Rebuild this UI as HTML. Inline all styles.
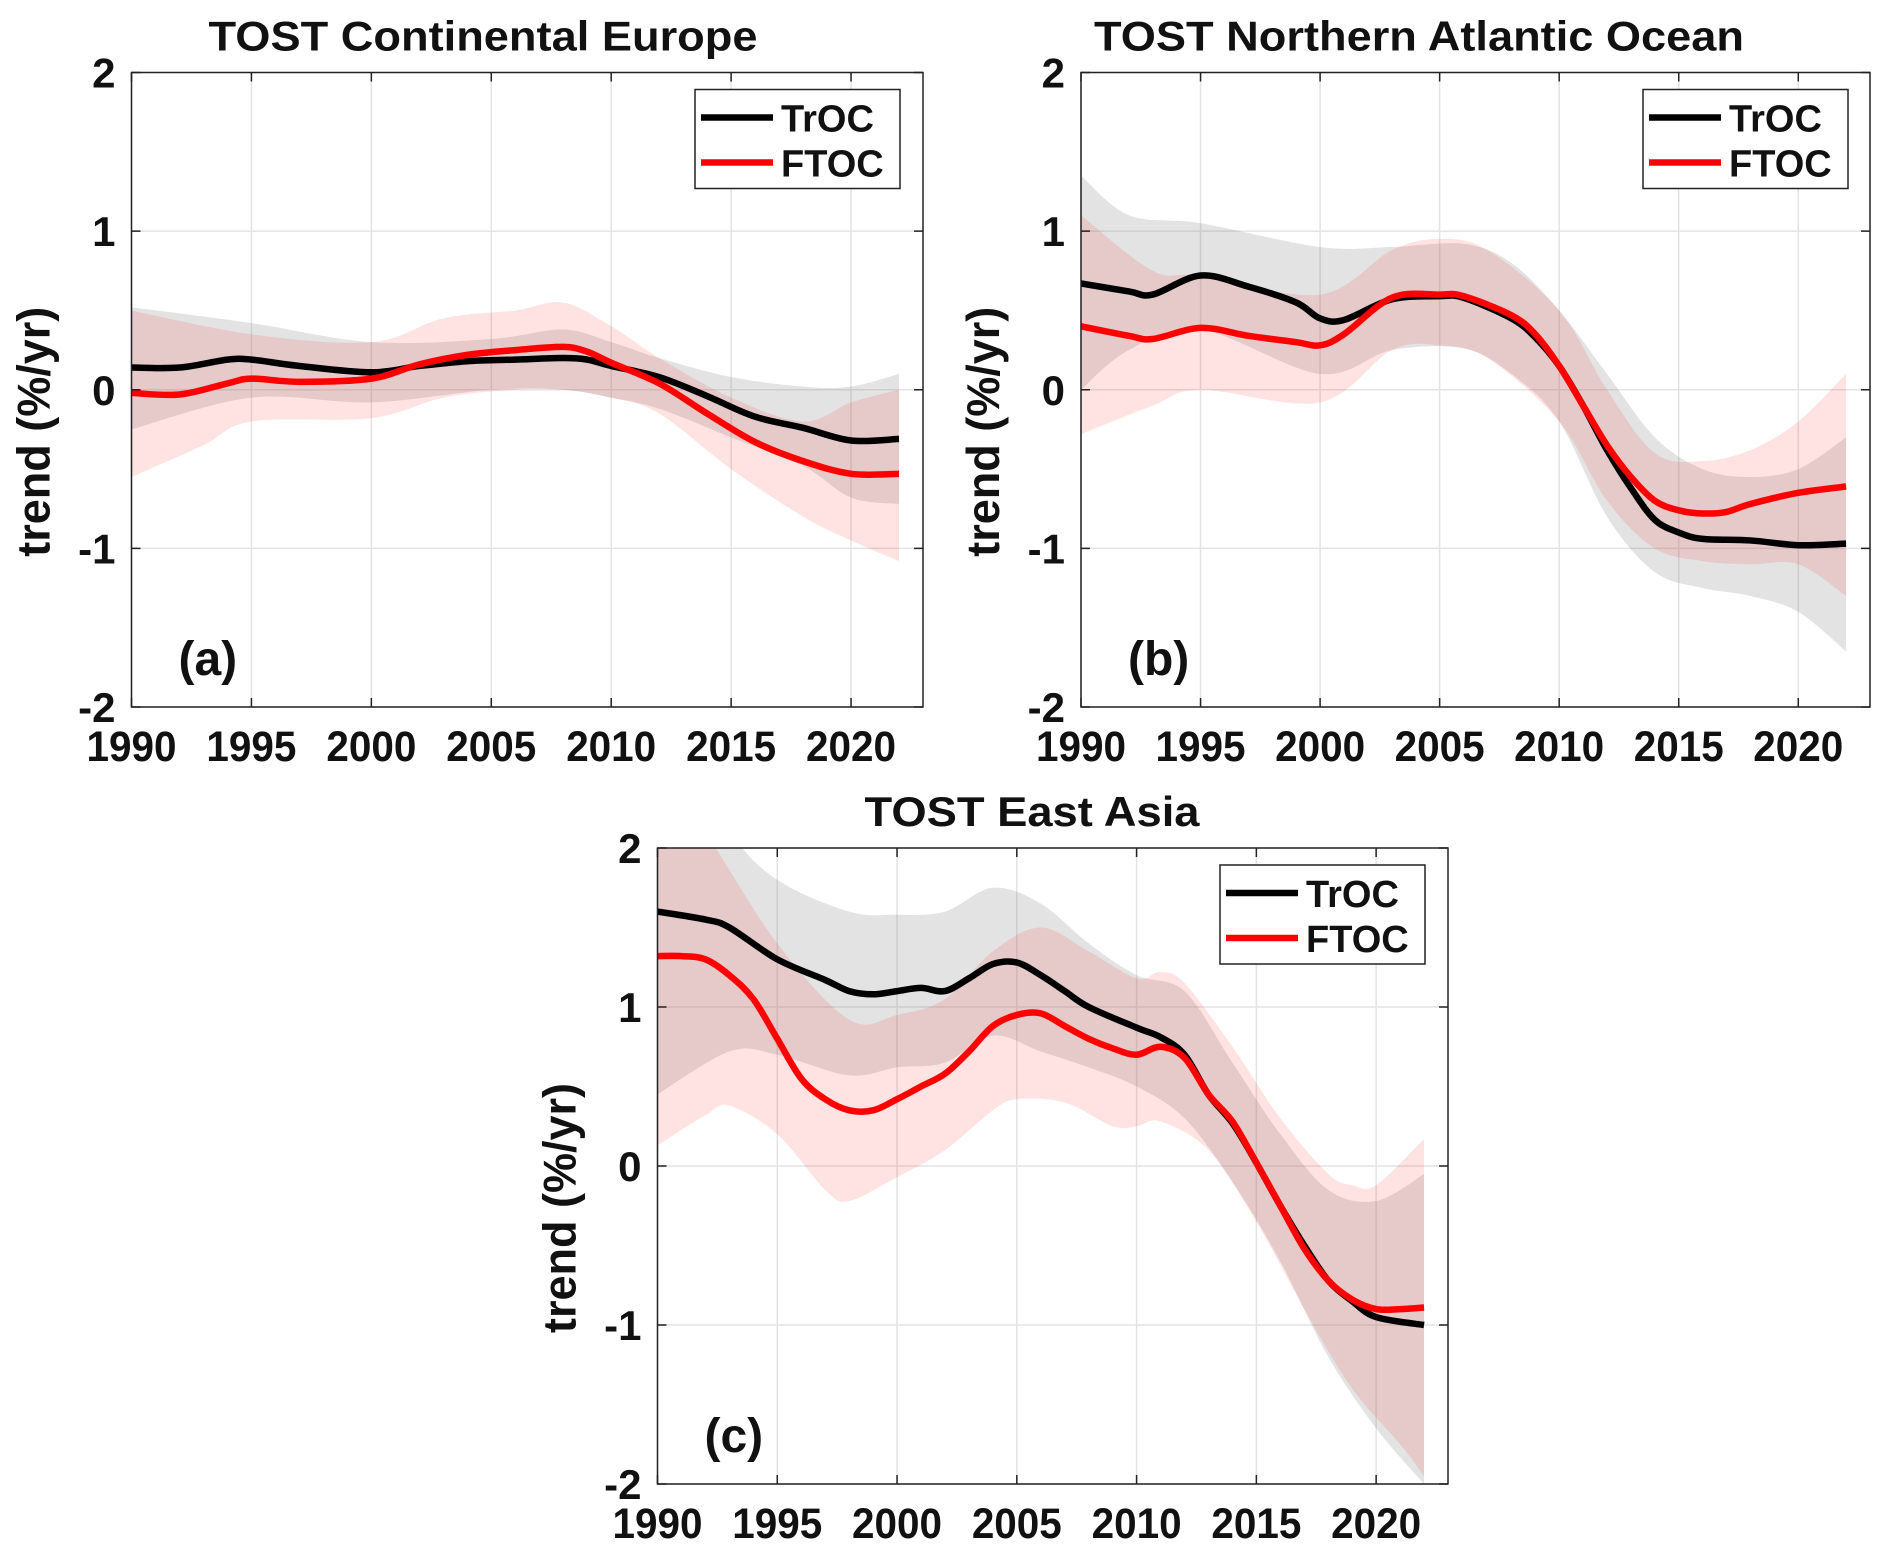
<!DOCTYPE html>
<html><head><meta charset="utf-8"><style>
html,body{margin:0;padding:0;background:#fff}
svg{display:block}
text{font-family:"Liberation Sans",Arial,sans-serif;font-weight:bold;fill:#111}
</style></head><body>
<svg id="fig" width="1892" height="1558" viewBox="0 0 1892 1558" xmlns="http://www.w3.org/2000/svg"></svg>
<script>
// ---------- Panel (a) data ----------
const aTrYears=[1990,1992,1994,1995,1997,2000,2002,2004,2006,2008,2009,2010,2012,2014,2016,2018,2020,2022];
const aTrMean=[0.14,0.14,0.19,0.19,0.15,0.11,0.15,0.18,0.19,0.20,0.19,0.15,0.08,-0.04,-0.17,-0.24,-0.32,-0.31];
const aTrBandYears=[1990,1995,2000,2005,2008,2010,2012,2015,2018,2020,2022];
const aTrUpper=[0.52,0.42,0.30,0.32,0.38,0.30,0.20,0.08,0.02,0.02,0.10];
const aTrLower=[-0.25,-0.05,-0.08,0.0,0.0,-0.05,-0.12,-0.30,-0.48,-0.68,-0.72];
const aFtYears=[1990,1992,1994,1995,1997,2000,2002,2004,2006,2008,2009,2010,2012,2014,2016,2018,2020,2022];
const aFtMean=[-0.02,-0.03,0.04,0.07,0.05,0.07,0.16,0.22,0.25,0.27,0.24,0.17,0.04,-0.15,-0.33,-0.45,-0.53,-0.53];
const aFtUpYears=[1990,1995,2000,2003,2006,2008,2010,2012,2015,2018,2020,2022];
const aFtUpper=[0.50,0.35,0.30,0.45,0.50,0.55,0.40,0.20,-0.05,-0.20,-0.08,0.0];
const aFtLoYears=[1990,1993,1995,2000,2003,2006,2008,2010,2012,2015,2018,2020,2022];
const aFtLower=[-0.55,-0.35,-0.20,-0.18,-0.05,0.0,0.0,-0.05,-0.15,-0.50,-0.80,-0.95,-1.08];
// ---------- Panel (b) data ----------
const bTrYears=[1990,1992,1993,1995,1997,1999,2000,2001,2003,2005,2006,2008,2009,2010,2011,2012,2013,2014,2015,2016,2018,2020,2022];
const bTrMean=[0.67,0.62,0.60,0.72,0.65,0.55,0.45,0.44,0.57,0.59,0.58,0.45,0.33,0.15,-0.10,-0.38,-0.62,-0.82,-0.90,-0.94,-0.95,-0.98,-0.97];
const bTrBandYears=[1990,1992,1995,2000,2003,2006,2008,2010,2012,2014,2016,2018,2020,2022];
const bTrUpper=[1.35,1.10,1.05,0.90,0.90,0.92,0.80,0.50,0.10,-0.30,-0.50,-0.55,-0.50,-0.30];
const bTrLower=[0.0,0.25,0.38,0.10,0.25,0.26,0.10,-0.20,-0.80,-1.15,-1.25,-1.30,-1.40,-1.65];
const bFtYears=[1990,1992,1993,1995,1997,1999,2000,2001,2003,2005,2006,2008,2009,2010,2011,2012,2013,2014,2015,2016,2017,2018,2020,2022];
const bFtMean=[0.40,0.34,0.32,0.39,0.34,0.30,0.28,0.35,0.58,0.60,0.59,0.47,0.35,0.15,-0.10,-0.35,-0.55,-0.70,-0.76,-0.78,-0.77,-0.72,-0.65,-0.61];
const bFtBandYears=[1990,1993,1995,2000,2003,2005,2007,2010,2012,2014,2016,2018,2020,2022];
const bFtUpper=[1.10,0.75,0.72,0.60,0.88,0.95,0.88,0.50,0.0,-0.40,-0.45,-0.38,-0.20,0.10];
const bFtLower=[-0.28,-0.10,0.0,-0.08,0.25,0.28,0.20,-0.20,-0.70,-1.00,-1.08,-1.10,-1.10,-1.30];
// ---------- Panel (c) data ----------
const cTrYears=[1990,1992,1993,1995,1997,1998,1999,2000,2001,2002,2003,2004,2005,2006,2007,2008,2010,2011,2012,2013,2014,2015,2016,2017,2018,2019,2020,2022];
const cTrMean=[1.60,1.55,1.50,1.30,1.17,1.10,1.08,1.10,1.12,1.10,1.18,1.27,1.28,1.20,1.10,1.00,0.87,0.81,0.70,0.45,0.27,0.02,-0.25,-0.50,-0.72,-0.85,-0.95,-1.00];
const cTrBandYears=[1990,1993,1995,1998,2000,2002,2004,2006,2008,2010,2012,2014,2016,2018,2020,2022];
const cTrUpper=[2.75,2.10,1.80,1.60,1.58,1.60,1.75,1.65,1.40,1.20,1.10,0.65,0.20,-0.15,-0.22,-0.05];
const cTrLower=[0.45,0.72,0.70,0.57,0.62,0.65,0.82,0.72,0.62,0.50,0.30,-0.10,-0.60,-1.20,-1.65,-2.00];
const cFtYears=[1990,1991,1992,1993,1994,1995,1996,1997,1998,1999,2000,2001,2002,2003,2004,2005,2006,2007,2008,2009,2010,2011,2012,2013,2014,2015,2016,2017,2018,2019,2020,2021,2022];
const cFtMean=[1.32,1.32,1.30,1.20,1.05,0.80,0.55,0.42,0.35,0.35,0.42,0.50,0.58,0.72,0.88,0.95,0.96,0.88,0.80,0.74,0.70,0.75,0.68,0.45,0.28,0.02,-0.25,-0.52,-0.72,-0.84,-0.90,-0.90,-0.89];
const cFtUpYears=[1990,1992,1995,1998,2000,2002,2004,2006,2008,2010,2011,2012,2014,2016,2018,2019,2020,2022];
const cFtUpper=[2.50,2.10,1.40,0.92,0.95,1.05,1.35,1.50,1.35,1.18,1.22,1.15,0.75,0.30,-0.05,-0.12,-0.12,0.17];
const cFtLoYears=[1990,1992,1993,1995,1997,1998,2000,2002,2004,2005,2007,2009,2010,2011,2013,2015,2017,2019,2021,2022];
const cFtLower=[0.13,0.32,0.38,0.20,-0.15,-0.22,-0.07,0.10,0.35,0.42,0.40,0.25,0.25,0.28,0.10,-0.35,-0.90,-1.40,-1.75,-1.95];

const xTicks=[1990,1995,2000,2005,2010,2015,2020];
const yTicks=[-2,-1,0,1,2];
const legendLabels=["TrOC","FTOC"];

const NS="http://www.w3.org/2000/svg";
const fig=document.getElementById('fig');
function mk(tag,attrs,parent){const e=document.createElementNS(NS,tag);for(const k in attrs)e.setAttribute(k,attrs[k]);(parent||fig).appendChild(e);return e;}

function smoothPath(pts){
  let d=`M${pts[0][0]},${pts[0][1]}`;
  for(let i=0;i<pts.length-1;i++){
    const p0=pts[Math.max(0,i-1)],p1=pts[i],p2=pts[i+1],p3=pts[Math.min(pts.length-1,i+2)];
    const c1=[p1[0]+(p2[0]-p0[0])/6,p1[1]+(p2[1]-p0[1])/6];
    const c2=[p2[0]-(p3[0]-p1[0])/6,p2[1]-(p3[1]-p1[1])/6];
    d+=` C${c1[0]},${c1[1]} ${c2[0]},${c2[1]} ${p2[0]},${p2[1]}`;
  }
  return d;
}
function smoothTail(pts){return smoothPath(pts).replace(/^M[^ C]+/,'L'+pts[0][0]+','+pts[0][1]);}

function panel(cfg,id){
  const {L,R,T,B}=cfg;
  const x=v=>L+(v-1990)/33*(R-L);
  const y=v=>B-(v+2)/4*(B-T);
  const g=mk('g',{});
  
  
  const clip=mk('clipPath',{id:'clip'+id},g);
  mk('rect',{x:L,y:T,width:R-L,height:B-T},clip);
  xTicks.forEach(t=>{const l=mk('line',{x1:x(t),x2:x(t),y1:T,y2:B,stroke:'#e3e3e3','stroke-width':1.5},g);
    });
  yTicks.forEach(t=>{const l=mk('line',{x1:L,x2:R,y1:y(t),y2:y(t),stroke:'#e3e3e3','stroke-width':1.5},g);
    });
  const dg=mk('g',{'clip-path':`url(#clip${id})`},g);
  function band(yu,up,yl,lo,color,op,nm){
    const top=yu.map((yr,i)=>[x(yr),y(up[i])]);
    const bot=yl.map((yr,i)=>[x(yr),y(lo[i])]).reverse();
    const p=mk('path',{d:smoothPath(top)+' '+smoothTail(bot)+' Z',fill:color,'fill-opacity':op,stroke:'none'},dg);
    
  }
  function line(ys,vs,color,nm){
    const p=mk('path',{d:smoothPath(ys.map((yr,i)=>[x(yr),y(vs[i])])),fill:'none',stroke:color,'stroke-width':6.5,'stroke-linejoin':'round'},dg);
    
  }
  band(cfg.trBY,cfg.trU,cfg.trBY,cfg.trL,'#808080',0.22,'troc-uncertainty-band');
  band(cfg.ftUY,cfg.ftU,cfg.ftLY,cfg.ftL,'#ff2020',0.13,'ftoc-uncertainty-band');
  line(cfg.trY,cfg.trM,'#000','troc-line');
  line(cfg.ftY,cfg.ftM,'#ff0000','ftoc-line');
  const bx=mk('rect',{x:L,y:T,width:R-L,height:B-T,fill:'none',stroke:'#222','stroke-width':1.5},g);
  
  xTicks.forEach(t=>{
    mk('line',{x1:x(t),x2:x(t),y1:B,y2:B-9,stroke:'#222','stroke-width':1.5},g);
    mk('line',{x1:x(t),x2:x(t),y1:T,y2:T+9,stroke:'#222','stroke-width':1.5},g);
    const tx=mk('text',{x:x(t),y:B+54,'font-size':43,'text-anchor':'middle',textLength:90,lengthAdjust:'spacingAndGlyphs'},g);tx.textContent=t;
    
  });
  yTicks.forEach(t=>{
    mk('line',{x1:L,x2:L+9,y1:y(t),y2:y(t),stroke:'#222','stroke-width':1.5},g);
    mk('line',{x1:R,x2:R-9,y1:y(t),y2:y(t),stroke:'#222','stroke-width':1.5},g);
    const tx=mk('text',{x:L-16,y:y(t)+15,'font-size':42,'text-anchor':'end'},g);tx.textContent=t;
    
  });
  const ti=mk('text',{x:cfg.titleX,y:T-22,'font-size':42,'text-anchor':'middle',textLength:cfg.titleW,lengthAdjust:'spacingAndGlyphs'},g);
  ti.textContent=cfg.title;
  const yl=mk('text',{x:0,y:0,'font-size':46,'text-anchor':'middle',textLength:250,lengthAdjust:'spacingAndGlyphs',transform:`translate(${L-82},${(T+B)/2+42}) rotate(-90)`},g);
  yl.textContent='trend (%/yr)';
  const pl=mk('text',{x:L+47,y:B-32,'font-size':48},g);pl.textContent=cfg.label;
  
  const lx=cfg.legX,ly=T+17;
  const lg=mk('g',{},g);
  mk('rect',{x:lx,y:ly,width:205,height:99,fill:'#fff',stroke:'#222','stroke-width':1.5},lg);
  ['#000','#ff0000'].forEach((c,i)=>{
    const e=mk('line',{x1:lx+6,x2:lx+78,y1:ly+28+i*45,y2:ly+28+i*45,stroke:c,'stroke-width':6.5},lg);
    
    const t=mk('text',{x:lx+86,y:ly+42+i*45,'font-size':38},lg);t.textContent=legendLabels[i];
    
  });
}
panel({name:'panel-a',L:131.5,R:923,T:72.5,B:707,title:'TOST Continental Europe',titleX:483,titleW:549,label:'(a)',legX:695,
  trY:aTrYears,trM:aTrMean,trBY:aTrBandYears,trU:aTrUpper,trL:aTrLower,
  ftY:aFtYears,ftM:aFtMean,ftUY:aFtUpYears,ftU:aFtUpper,ftLY:aFtLoYears,ftL:aFtLower},'a');
panel({name:'panel-b',L:1081,R:1870,T:72.5,B:707,title:'TOST Northern Atlantic Ocean',titleX:1419,titleW:650,label:'(b)',legX:1643,
  trY:bTrYears,trM:bTrMean,trBY:bTrBandYears,trU:bTrUpper,trL:bTrLower,
  ftY:bFtYears,ftM:bFtMean,ftUY:bFtBandYears,ftU:bFtUpper,ftLY:bFtBandYears,ftL:bFtLower},'b');
panel({name:'panel-c',L:657.5,R:1448,T:848,B:1484,title:'TOST East Asia',titleX:1032,titleW:335,label:'(c)',legX:1220,
  trY:cTrYears,trM:cTrMean,trBY:cTrBandYears,trU:cTrUpper,trL:cTrLower,
  ftY:cFtYears,ftM:cFtMean,ftUY:cFtUpYears,ftU:cFtUpper,ftLY:cFtLoYears,ftL:cFtLower},'c');
</script>
</body></html>
